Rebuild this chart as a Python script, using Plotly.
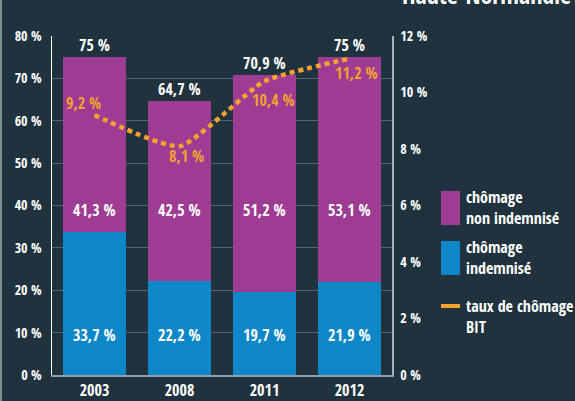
import plotly.graph_objects as go

years = ["2003", "2008", "2011", "2012"]
indemnise = [33.7, 22.2, 19.7, 21.9]
non_indemnise = [41.3, 42.5, 51.2, 53.1]
totals = [75, 64.7, 70.9, 75]
taux_bit = [9.2, 8.1, 10.4, 11.2]

total_labels = ["75 %", "64,7 %", "70,9 %", "75 %"]
non_ind_labels = ["41,3 %", "42,5 %", "51,2 %", "53,1 %"]
ind_labels = ["33,7 %", "22,2 %", "19,7 %", "21,9 %"]
bit_labels = ["9,2 %", "8,1 %", "10,4 %", "11,2 %"]

BG = "#1f323e"
PURPLE = "#9e3b93"
BLUE = "#0e87c9"
ORANGE = "#f5a230"
GRID = "#56666f"
FONT = "Open Sans Condensed, Roboto Condensed, sans-serif"

L, R, T, B = 52, 392, 36, 375
W, H = 575, 401


def px(p):
    return (p - L) / (R - L)


def py(p):
    return (B - p) / (B - T)


def f(size, color="white"):
    return dict(size=size, color=color, family=FONT, weight="bold")


fig = go.Figure()
fig.add_trace(go.Bar(x=years, y=indemnise, marker=dict(color=BLUE, line=dict(width=0)),
                     width=0.73, showlegend=False, hoverinfo="skip"))
fig.add_trace(go.Bar(x=years, y=non_indemnise, marker=dict(color=PURPLE, line=dict(width=0)),
                     width=0.73, showlegend=False, hoverinfo="skip"))
fig.add_trace(go.Scatter(x=years, y=taux_bit, yaxis="y2", mode="lines",
                         line=dict(color=ORANGE, width=4.5, dash="5px,4px", shape="spline", smoothing=0.5),
                         showlegend=False, hoverinfo="skip"))

ann = []
for i in range(len(years)):
    ann.append(dict(x=i, y=totals[i], xref="x", yref="y", text=total_labels[i], showarrow=False,
                    yanchor="bottom", yshift=-1, font=f(16)))
    ann.append(dict(x=i, y=39, xref="x", yref="y", text=non_ind_labels[i], showarrow=False, font=f(16)))
    ann.append(dict(x=i, y=9.5, xref="x", yref="y", text=ind_labels[i], showarrow=False, font=f(16)))

offsets = [(-11, 12), (7, -10), (9, -19), (7, -14)]
for i in range(len(years)):
    dx, dy = offsets[i]
    ann.append(dict(x=i, y=taux_bit[i], xref="x", yref="y2", text=bit_labels[i], showarrow=False,
                    xshift=dx, yshift=dy, font=f(16, ORANGE)))

leg = [("chômage<br>non indemnisé", 207.5), ("chômage<br>indemnisé", 257.5), ("taux de chômage<br>BIT", 316)]
for txt, yc in leg:
    ann.append(dict(x=px(464), y=py(yc), xref="paper", yref="paper", text=txt, showarrow=False,
                    xanchor="left", yanchor="middle", align="left", font=f(16)))

ann.append(dict(x=px(573), y=py(13), xref="paper", yref="paper", text="Haute-Normandie", showarrow=False,
                xanchor="right", yanchor="bottom", font=f(24)))

shapes = [
    dict(type="rect", xref="paper", yref="paper", x0=px(441), x1=px(460), y0=py(225), y1=py(191),
         fillcolor=PURPLE, line=dict(width=0)),
    dict(type="rect", xref="paper", yref="paper", x0=px(441), x1=px(460), y0=py(275), y1=py(241),
         fillcolor=BLUE, line=dict(width=0)),
    dict(type="rect", xref="paper", yref="paper", x0=px(441), x1=px(460), y0=py(308), y1=py(304),
         fillcolor=ORANGE, line=dict(width=0)),
    dict(type="rect", xref="paper", yref="paper", x0=px(0), x1=px(2), y0=py(W), y1=py(0),
         fillcolor="#7d8a91", line=dict(width=0), layer="below"),
]

fig.update_layout(
    width=W, height=H,
    margin=dict(l=L, r=W - R, t=T, b=H - B, pad=0, autoexpand=False),
    paper_bgcolor=BG, plot_bgcolor=BG,
    barmode="stack", bargap=0.27,
    font=dict(family=FONT, color="white", size=13, weight="bold"),
    xaxis=dict(type="category", range=[-0.5, len(years) - 0.5], showgrid=False, showline=True,
               linecolor="#8fa0aa", linewidth=1.5, automargin=False,
               tickfont=f(16), ticks="", ticklabelstandoff=0, fixedrange=True),
    yaxis=dict(range=[0, 80], dtick=10, ticksuffix=" %", showgrid=True, gridcolor=GRID, gridwidth=1,
               showline=True, linecolor="white", linewidth=1.5, zeroline=False, ticks="", automargin=False,
               ticklabelstandoff=6, tickfont=f(14), fixedrange=True),
    yaxis2=dict(range=[0, 12], dtick=2, ticksuffix=" %", overlaying="y", side="right", showgrid=False,
                showline=True, linecolor="#a9b3b8", linewidth=1.5, zeroline=False, ticks="", automargin=False,
                ticklabelstandoff=4, tickfont=f(14), fixedrange=True),
    annotations=ann, shapes=shapes, showlegend=False,
)

fig.write_html("out.html", config={"displayModeBar": False, "staticPlot": True},
               post_script="document.body.style.margin='0';document.body.style.overflow='hidden';"
                           "document.body.style.background='" + BG + "';")
